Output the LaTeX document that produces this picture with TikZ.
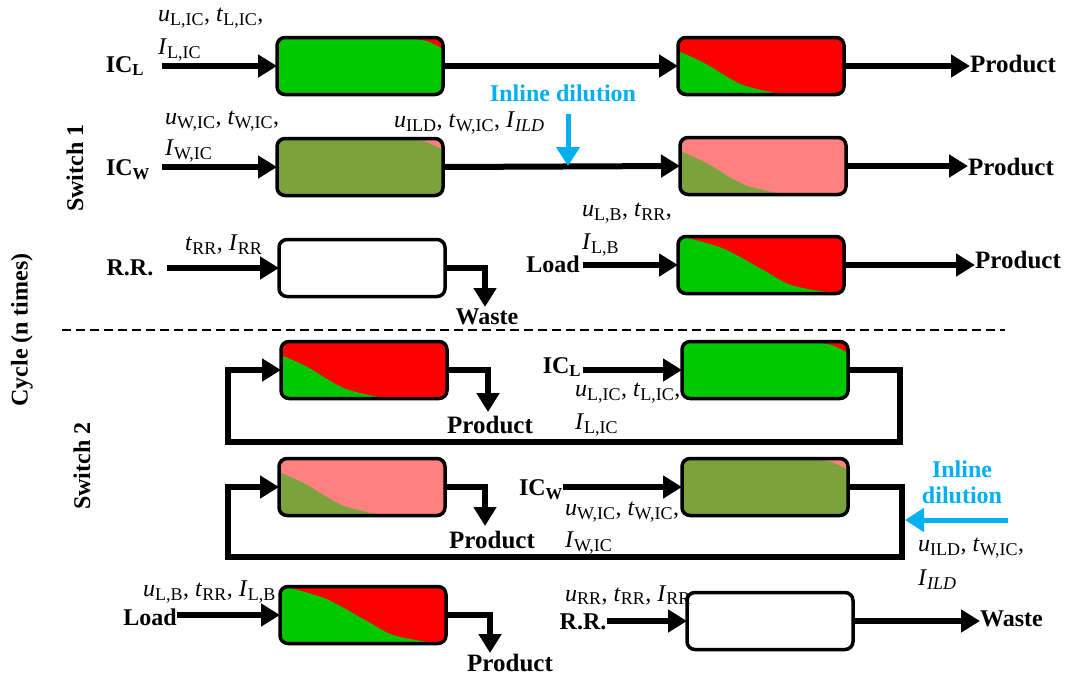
\documentclass[tikz,border=0pt]{standalone}
\usepackage{fontspec}
\setmainfont{Liberation Serif}
\usetikzlibrary{arrows.meta}

\definecolor{cgreen}{RGB}{0,200,0}
\definecolor{cred}{RGB}{255,0,0}
\definecolor{colive}{RGB}{122,163,60}
\definecolor{cpink}{RGB}{255,128,128}
\definecolor{cblue}{RGB}{0,176,240}

% variable with upright subscript
\newcommand\sbs[1]{\textsubscript{\fontsize{18}{18}\selectfont #1}}
\newcommand\pv[2]{\textit{#1}\sbs{#2}}

% concentration fronts, in unit box coordinates (u to the right, v downwards)
\newcommand\fronthalf[1]{\fill[#1] plot[smooth] coordinates {(-0.05,0.22) (0,0.24) (0.16,0.45) (0.38,0.82) (0.62,0.99) (0.8,1.02) (1.1,1.05)}
          -- (1.1,1.3) -- (-0.1,1.3) -- cycle;}
\newcommand\frontload[1]{\fill[#1] plot[smooth] coordinates {(-0.05,-0.02) (0.05,0.02) (0.28,0.22) (0.52,0.6) (0.68,0.85) (0.91,0.98) (1.1,1.0)}
          -- (1.1,1.3) -- (-0.1,1.3) -- cycle;}
\newcommand\fronttiny[1]{\fill[#1] plot[smooth] coordinates {(0.74,-0.05) (0.77,0) (0.9,0.06) (1.0,0.2) (1.05,0.3)}
          -- (1.1,-0.1) -- cycle;}
\newcommand\frontnone[1]{}

% column: #1 name, #2 centre, #3 base colour, #4 front colour, #5 front shape
\newcommand\column[5]{%
  \node[colshape] (#1) at (#2) {};
  \begin{scope}
    \clip[rounded corners=8pt] (#1.north west) rectangle (#1.south east);
    \fill[#3] (#1.north west) rectangle (#1.south east);
    \begin{scope}[shift={(#1.north west)}, x=166pt, y=-57pt]
      \csname front#5\endcsname{#4}
    \end{scope}
  \end{scope}
  \draw[colborder] (#1.north west) rectangle (#1.south east);
}

\tikzset{
  colshape/.style={minimum width=166pt, minimum height=57pt, inner sep=0pt, outer sep=0pt},
  colborder/.style={line width=3.5pt, rounded corners=8pt},
  arr/.style={line width=6pt, line join=miter, -{Triangle[length=19pt,width=22pt]}},
  barr/.style={cblue, line width=5pt, -{Triangle[length=19pt,width=23pt]}},
  lab/.style={font=\fontsize{24}{27}\selectfont, inner sep=0pt, anchor=west},
  bl/.style={font=\fontsize{24}{27}\selectfont\bfseries, inner sep=0pt},
  prod/.style={font=\fontsize{25}{28}\selectfont\bfseries, inner sep=0pt},
  blue/.style={font=\fontsize{24}{28}\selectfont\bfseries, text=cblue, inner sep=0pt, align=center},
  side/.style={font=\fontsize{24}{27}\selectfont\bfseries, inner sep=0pt, rotate=90},
}

\begin{document}
\begin{tikzpicture}[x=1pt, y=-1pt]
\useasboundingbox (0,0) rectangle (1067,678);

% ---------------- Switch 1 ----------------
\column{a1}{360,66}{cgreen}{cred}{tiny}
\column{b1}{761,66}{cred}{cgreen}{half}
\column{a2}{360,167}{colive}{cpink}{tiny}
\column{b2}{763,166}{cpink}{colive}{half}
\column{a3}{362,268}{white}{white}{none}
\column{b3}{761,265}{cred}{cgreen}{load}

% row 1
\node[bl] (icl1) at (125,66) {IC\textsubscript{L}};
\coordinate (s1) at (162,66);
\draw[arr] (s1) -- (a1.west);
\draw[arr] (a1.east) -- (b1.west);
\node[prod, anchor=west] (pr1) at (970,64) {Product};
\draw[arr] (b1.east) -- (pr1.west |- b1.east);
\node[lab] (l1a) at (158,18) {\pv{u}{L,IC}, \pv{t}{L,IC},};
\node[lab] (l1b) at (158,50) {\pv{I}{L,IC}};

% row 2
\node[bl] (icw1) at (128,170) {IC\textsubscript{W}};
\coordinate (s2) at (162,167);
\draw[arr] (s2) -- (a2.west);
\draw[arr] (a2.east) -- (b2.west);
\node[prod, anchor=west] (pr2) at (968,167) {Product};
\draw[arr] (b2.east) -- (pr2.west |- b2.east);
\node[lab] (l2a) at (165,121) {\pv{u}{W,IC}, \pv{t}{W,IC},};
\node[lab] (l2b) at (165,151) {\pv{I}{W,IC}};
\node[lab] (l2c) at (394,123) {\pv{u}{ILD}, \pv{t}{W,IC}, \textit{I}\sbs{\textit{ILD}}};
\node[blue] (ild1) at (563,93) {Inline dilution};
\coordinate (ild1s) at (568,114);
\coordinate (ild1e) at (568,166);
\draw[barr] (ild1s) -- (ild1e);

% row 3
\node[bl] (rr1) at (130,268) {R.R.};
\coordinate (s3) at (167,268);
\draw[arr] (s3) -- (a3.west);
\node[lab] (l3a) at (185,245) {\pv{t}{RR}, \pv{I}{RR}};
\coordinate (w1) at (485,307);
\draw[arr] (a3.east) -| (w1);
\node[bl] (ws1) at (487,317) {Waste};
\node[bl] (ld1) at (553,264) {Load};
\coordinate (s4) at (583,265);
\draw[arr] (s4) -- (b3.west);
\node[lab] (l3b) at (582,213) {\pv{u}{L,B}, \pv{t}{RR},};
\node[lab] (l3c) at (582,245) {\pv{I}{L,B}};
\node[prod, anchor=west] (pr3) at (975,260) {Product};
\draw[arr] (b3.east) -- (pr3.west |- b3.east);

% separator
\coordinate (dl) at (62,330);
\coordinate (dr) at (1005,330);
\draw[line width=2pt, dash pattern=on 9pt off 5pt] (dl) -- (dr);

% ---------------- Switch 2 ----------------
\column{c4}{364,370}{cred}{cgreen}{half}
\column{d4}{765,370}{cgreen}{cred}{tiny}
\column{c5}{362,487}{cpink}{colive}{half}
\column{d5}{765,487}{colive}{cpink}{tiny}
\column{c6}{363,615}{cred}{cgreen}{load}
\column{d6}{770,621}{white}{white}{none}

% row 4: loop back to the first column
\coordinate (k4r) at (900,442);
\coordinate (k4l) at (228,442);
\draw[arr] (d4.east) -| (k4r) -- (k4l) |- (c4.west);
\coordinate (p4) at (488,412);
\draw[arr] (c4.east) -| (p4);
\node[prod] (pr4) at (490,425) {Product};
\node[bl] (icl2) at (562,367) {IC\textsubscript{L}};
\coordinate (s5) at (583,370);
\draw[arr] (s5) -- (d4.west);
\node[lab] (l4a) at (575,393) {\pv{u}{L,IC}, \pv{t}{L,IC},};
\node[lab] (l4b) at (575,425) {\pv{I}{L,IC}};

% row 5: loop with inline dilution
\coordinate (k5r) at (902,557);
\coordinate (k5l) at (228,557);
\draw[arr] (d5.east) -| (k5r) -- (k5l) |- (c5.west);
\coordinate (p5) at (485,526);
\draw[arr] (c5.east) -| (p5);
\node[prod] (pr5) at (492,540) {Product};
\node[bl] (icw2) at (541,490) {IC\textsubscript{W}};
\coordinate (s6) at (563,487);
\draw[arr] (s6) -- (d5.west);
\node[lab] (l5a) at (565,512) {\pv{u}{W,IC}, \pv{t}{W,IC},};
\node[lab] (l5b) at (565,543) {\pv{I}{W,IC}};
\node[blue] (ild2) at (962,482) {Inline\\[-2pt]dilution};
\coordinate (ild2s) at (1008,520);
\coordinate (ild2e) at (905,520);
\draw[barr] (ild2s) -- (ild2e);
\node[lab] (l5c) at (918,548) {\pv{u}{ILD}, \pv{t}{W,IC},};
\node[lab] (l5d) at (918,580) {\textit{I}\sbs{\textit{ILD}}};

% row 6
\node[bl] (ld2) at (150,617) {Load};
\coordinate (s7) at (177,615);
\draw[arr] (s7) -- (c6.west);
\node[lab] (l6a) at (143,592) {\pv{u}{L,B}, \pv{t}{RR}, \pv{I}{L,B}};
\coordinate (p6) at (490,653);
\draw[arr] (c6.east) -| (p6);
\node[prod] (pr6) at (510,663) {Product};
\node[bl] (rr2) at (583,622) {R.R.};
\coordinate (s8) at (607,621);
\draw[arr] (s8) -- (d6.west);
\node[lab] (l6b) at (565,595) {\pv{u}{RR}, \pv{t}{RR}, \pv{I}{RR}};
\node[bl, anchor=west] (ws2) at (980,619) {Waste};
\draw[arr] (d6.east) -- (ws2.west |- d6.east);

% side captions
\node[side] (sw1) at (75,168) {Switch 1};
\node[side] (sw2) at (82,466) {Switch 2};
\node[side] (cyc) at (22,330) {Cycle (n times)};
\end{tikzpicture}
\end{document}
